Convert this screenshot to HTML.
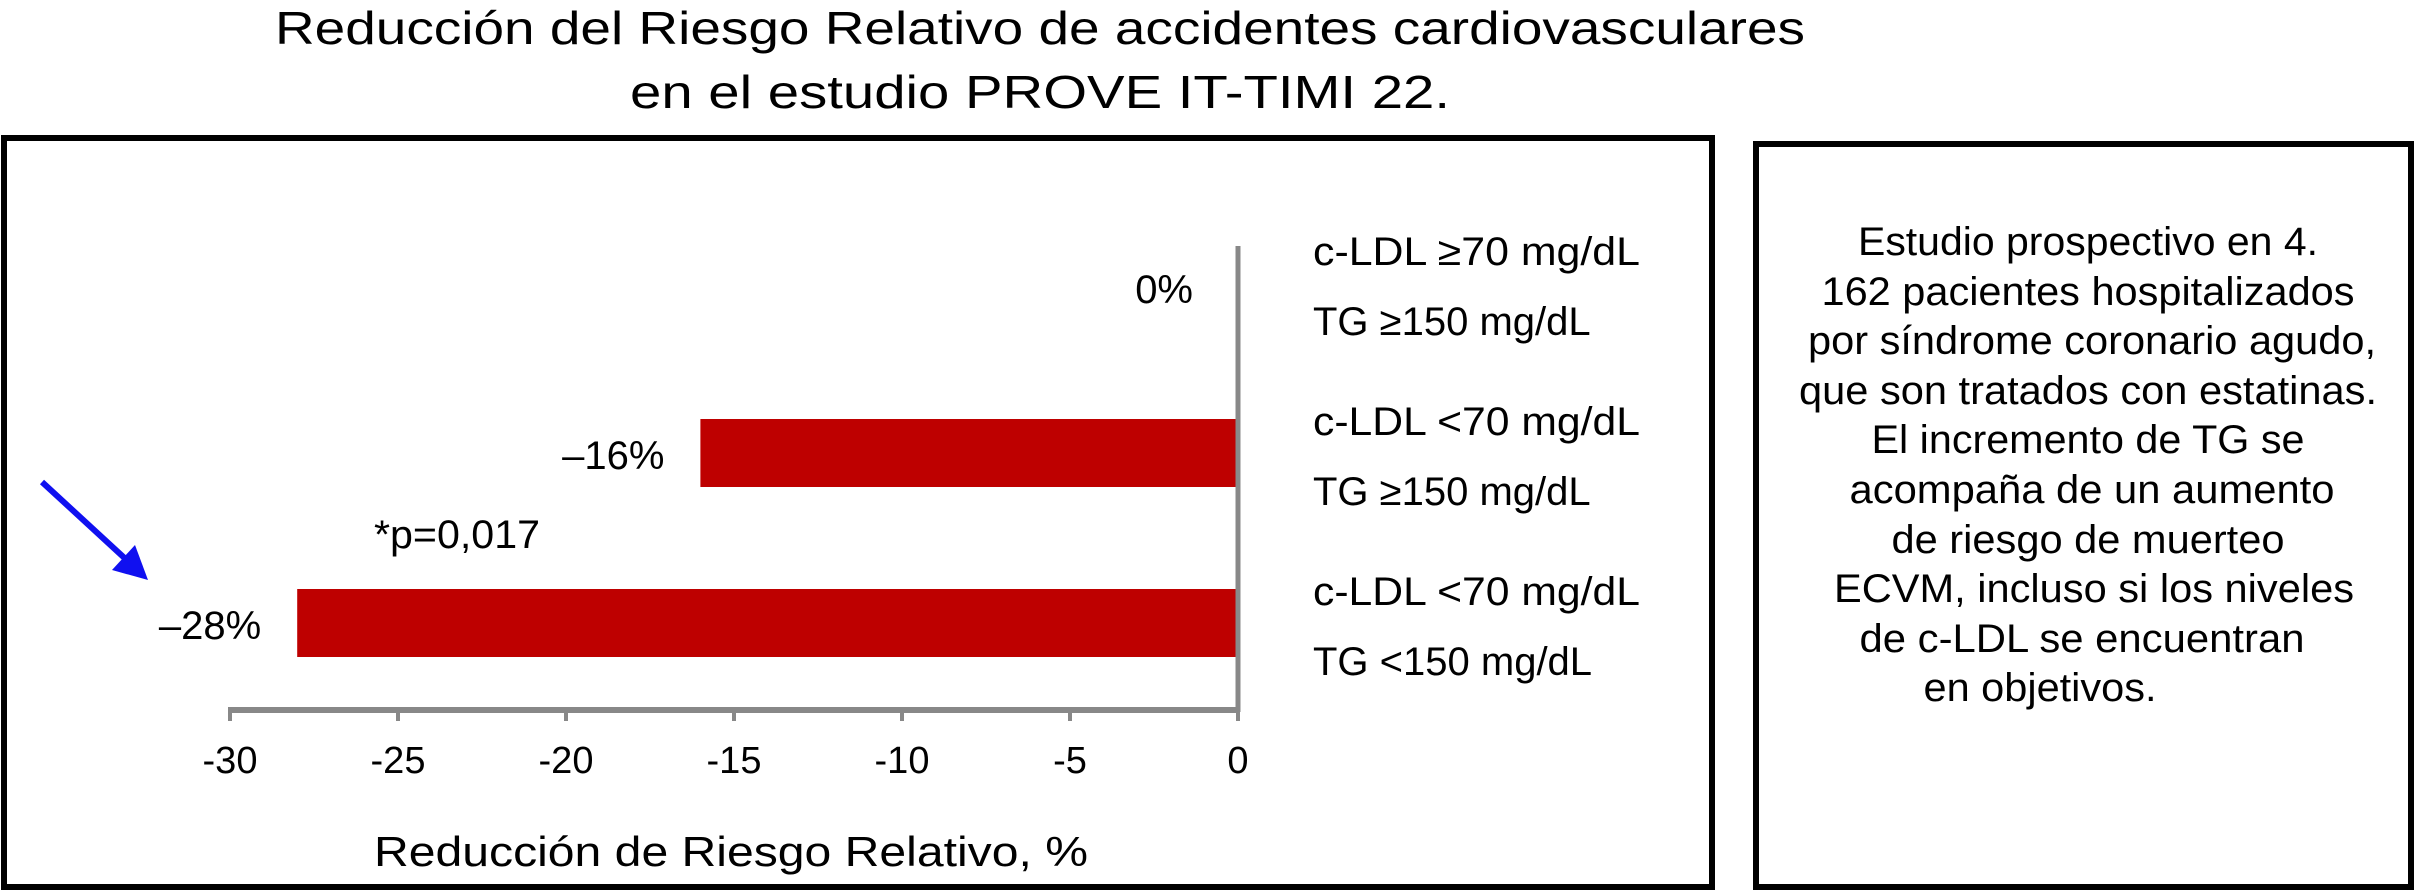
<!DOCTYPE html>
<html><head><meta charset="utf-8"><style>
html,body{margin:0;padding:0;background:#fff;}
svg{display:block;font-family:"Liberation Sans",sans-serif;}
</style></head><body>
<svg width="2416" height="892" viewBox="0 0 2416 892">
<g font-size="46" text-anchor="middle">
<text x="1040" y="44" textLength="1530" lengthAdjust="spacingAndGlyphs">Reducción del Riesgo Relativo de accidentes cardiovasculares</text>
<text x="1040" y="108" textLength="820" lengthAdjust="spacingAndGlyphs">en el estudio PROVE IT-TIMI 22.</text>
</g>
<rect x="4" y="138" width="1708" height="749" fill="none" stroke="#000" stroke-width="6"/>
<rect x="1756" y="144" width="655" height="743" fill="none" stroke="#000" stroke-width="6"/>
<g id="plot"></g>
<g font-size="40" text-anchor="middle">
<text x="2088" y="255" textLength="460" lengthAdjust="spacingAndGlyphs">Estudio prospectivo en 4.</text>
<text x="2088" y="305" textLength="533" lengthAdjust="spacingAndGlyphs">162 pacientes hospitalizados</text>
<text x="2092" y="354" textLength="568" lengthAdjust="spacingAndGlyphs">por síndrome coronario agudo,</text>
<text x="2088" y="404" textLength="578" lengthAdjust="spacingAndGlyphs">que son tratados con estatinas.</text>
<text x="2088" y="453" textLength="433" lengthAdjust="spacingAndGlyphs">El incremento de TG se</text>
<text x="2092" y="503" textLength="485" lengthAdjust="spacingAndGlyphs">acompaña de un aumento</text>
<text x="2088" y="553" textLength="393" lengthAdjust="spacingAndGlyphs">de riesgo de muerteo</text>
<text x="2094" y="602" textLength="520" lengthAdjust="spacingAndGlyphs">ECVM, incluso si los niveles</text>
<text x="2082" y="652" textLength="445" lengthAdjust="spacingAndGlyphs">de c-LDL se encuentran</text>
<text x="2040" y="701" textLength="233" lengthAdjust="spacingAndGlyphs">en objetivos.</text>
</g>
<g>
<line x1="42" y1="482" x2="130" y2="563" stroke="#1010f0" stroke-width="6"/>
<polygon points="148,580 112,570 135,545" fill="#1010f0"/>
</g>
</svg>
<script>
const categories = ["c-LDL ≥70 mg/dL|TG ≥150 mg/dL","c-LDL <70 mg/dL|TG ≥150 mg/dL","c-LDL <70 mg/dL|TG <150 mg/dL"];
const values = [0, -16, -28];
const valueLabels = ["0%", "–16%", "–28%"];
const tickValues = [-30, -25, -20, -15, -10, -5, 0];
const tickLabels = ["-30", "-25", "-20", "-15", "-10", "-5", "0"];
const NS = "http://www.w3.org/2000/svg";
const g = document.getElementById("plot");
const xMin = -30, xMax = 0, x0 = 230, x1 = 1238;
const X = v => x0 + (v - xMin) / (xMax - xMin) * (x1 - x0);
const catTop = 198, catH = 170, barH = 68;
const Yc = i => catTop + catH * i + catH / 2;
function el(tag, attrs, text) {
  const e = document.createElementNS(NS, tag);
  for (const k in attrs) e.setAttribute(k, attrs[k]);
  if (text !== undefined) e.textContent = text;
  g.appendChild(e);
  return e;
}
values.forEach((v, i) => {
  const yc = Yc(i);
  if (v !== 0) {
    const r = el("rect", {x: X(v), y: yc - barH / 2, width: X(0) - X(v), height: barH, fill: "#be0000"});
    
    
  }
  const lx = v === 0 ? 1193 : X(v) - 36;
  const t = el("text", {x: lx, y: (v === 0 ? yc + 20 : yc + 16), "font-size": 40, "text-anchor": "end"}, valueLabels[i]);
  
  
  const parts = categories[i].split("|");
  const c1 = el("text", {x: 1313, y: yc - 18, "font-size": 40, textLength: 327, lengthAdjust: "spacingAndGlyphs"}, parts[0]);
  
  
  const c2 = el("text", {x: 1313, y: yc + 52, "font-size": 40}, parts[1]);
  
  
});
const yAx = el("line", {x1: X(0), y1: 246, x2: X(0), y2: 712, stroke: "#888", "stroke-width": 5});


const xAx = el("line", {x1: X(xMin) - 2, y1: 710, x2: X(0) + 2, y2: 710, stroke: "#888", "stroke-width": 6});


tickValues.forEach((v, i) => {
  const tk = el("line", {x1: X(v), y1: 710, x2: X(v), y2: 721, stroke: "#888", "stroke-width": 4});
  
  
  const tl = el("text", {x: X(v), y: 773, "font-size": 38, "text-anchor": "middle"}, tickLabels[i]);
  
  
});
const pv = el("text", {x: 374, y: 548, "font-size": 40, textLength: 166, lengthAdjust: "spacingAndGlyphs"}, "*p=0,017");


const xt = el("text", {x: 374, y: 866, "font-size": 42, textLength: 714, lengthAdjust: "spacingAndGlyphs"}, "Reducción de Riesgo Relativo, %");


</script>
</body></html>
